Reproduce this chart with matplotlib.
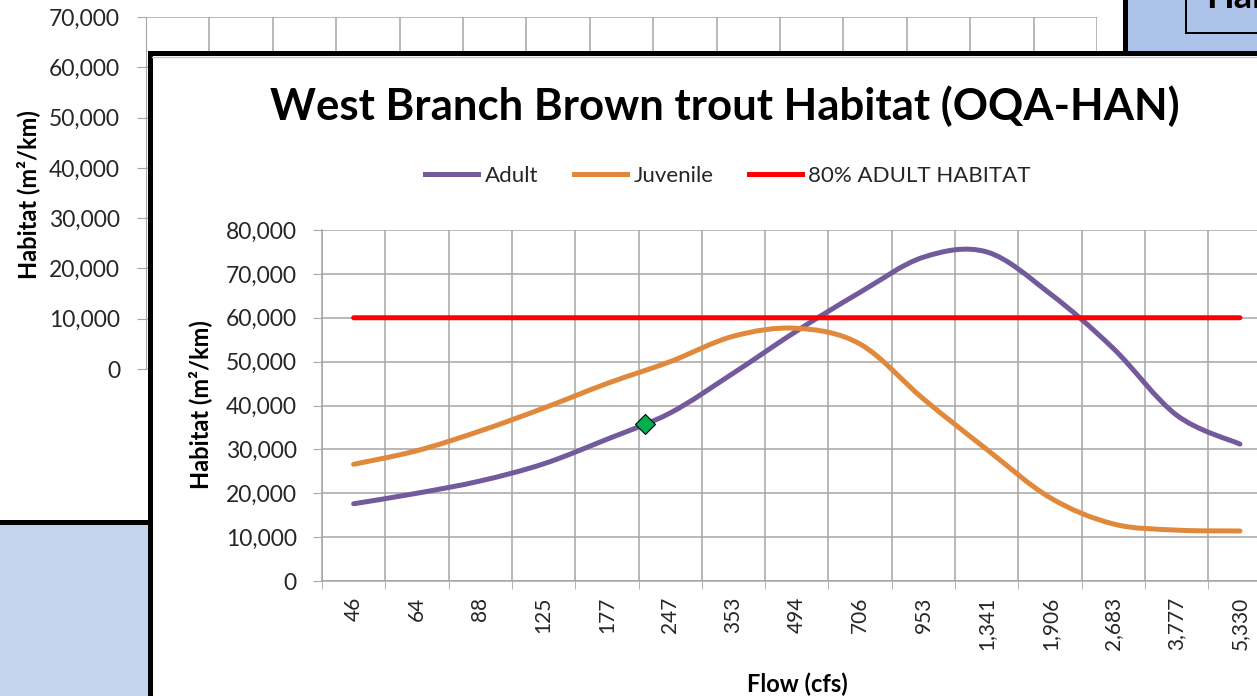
import numpy as np
import matplotlib
matplotlib.use("Agg")
import matplotlib.pyplot as plt
from matplotlib.path import Path
from matplotlib.patches import PathPatch, Rectangle
from matplotlib.lines import Line2D
from matplotlib.ticker import FuncFormatter

plt.rcParams['font.family'] = ['Lato', 'DejaVu Sans']

# ---------------- data ----------------
categories = ["46", "64", "88", "125", "177", "247", "353", "494", "706",
              "953", "1,341", "1,906", "2,683", "3,777", "5,330"]
adult = [17600, 20000, 22800, 26700, 32300, 38300, 47400, 57000, 65800,
         73800, 75000, 65500, 53000, 37800, 31200]
juvenile = [26600, 29700, 34200, 39400, 45000, 50000, 55800, 57600, 54000,
            41500, 30000, 19000, 13000, 11600, 11400]
threshold = [60000, 60000, 60000, 60000, 60000, 60000, 60000, 60000, 60000,
             60000, 60000, 60000, 60000, 60000, 60000]
marker_pos = 4.6
marker_value = 35800
series_labels = ["Adult", "Juvenile", "80% ADULT HABITAT"]
bg_yticks = [0, 10000, 20000, 30000, 40000, 50000, 60000, 70000]
main_yticks = [0, 10000, 20000, 30000, 40000, 50000, 60000, 70000, 80000]

# ---------------- layout helpers ----------------
W, H = 1257, 696
fig = plt.figure(figsize=(W / 100, H / 100), dpi=100)
fig.patch.set_facecolor("white")


def fx(x):
    return x / W


def fy(y):
    return 1 - y / H


GRID = "#a6a6a6"
TXT = "#262626"
comma = FuncFormatter(lambda v, p: f"{int(v):,}")
PX = 0.72  # points per pixel
TICK_FS = 16.5
LABEL_FS = 17

# ---------------- background chart (behind) ----------------
ax_bg = fig.add_axes([fx(146), fy(369), fx(1097) - fx(146), fy(17) - fy(369)])
ax_bg.set_zorder(0)
ax_bg.set_xlim(-0.5, len(categories) - 0.5)
ax_bg.set_ylim(0, 70000)
ax_bg.set_yticks(bg_yticks)
ax_bg.yaxis.set_major_formatter(comma)
ax_bg.set_xticks([])
ax_bg.set_xticks(np.arange(-0.5, len(categories), 1), minor=True)
ax_bg.grid(which="minor", axis="x", color=GRID, lw=1.1)
ax_bg.grid(which="major", axis="y", color=GRID, lw=1.1)
ax_bg.tick_params(axis="y", length=9 * PX, color=GRID, labelsize=TICK_FS,
                  labelcolor=TXT, pad=17 * PX)
ax_bg.tick_params(axis="x", which="minor", length=0)
for s in ax_bg.spines.values():
    s.set_visible(False)
ax_bg.spines["left"].set_visible(True)
ax_bg.spines["left"].set_color(GRID)
fig.text(fx(28), fy(195), "Habitat (m²/km)", rotation=90, ha="center",
         va="center", fontsize=LABEL_FS, fontweight="bold", color="black")

# ---------------- surrounding sheet elements ----------------
fig.add_artist(Rectangle((fx(-10), fy(710)), fx(159.5), fy(521.5) - fy(710),
                         transform=fig.transFigure, facecolor="#c5d4ed",
                         edgecolor="black", lw=5 * PX, zorder=1))
fig.add_artist(Rectangle((fx(1125), fy(52.5)), fx(200), fy(-10) - fy(52.5),
                         transform=fig.transFigure, facecolor="#adc2e9",
                         edgecolor="black", lw=5 * PX, zorder=1))
fig.add_artist(Rectangle((fx(1186), fy(32.5)), fx(120), fy(-10) - fy(32.5),
                         transform=fig.transFigure, facecolor="#adc2e9",
                         edgecolor="black", lw=2 * PX, zorder=1.1))
fig.text(fx(1206), fy(8), "Habitat", ha="left", va="baseline", fontsize=26,
         fontweight="bold", color="black", zorder=1.2)

# main chart frame
fig.add_artist(Rectangle((fx(149.5), fy(720)), fx(1200), fy(52.5) - fy(720),
                         transform=fig.transFigure, facecolor="white",
                         edgecolor="black", lw=5 * PX, zorder=1.5))
fig.add_artist(Line2D([fx(152), fx(1257)], [fy(56.5), fy(56.5)],
                      transform=fig.transFigure, color="#c8c8c8", lw=1,
                      zorder=1.6))

# ---------------- main chart ----------------
ax = fig.add_axes([fx(322), fy(581), (1271.6 - 322) / W, (581 - 230) / H])
ax.set_zorder(2)
ax.patch.set_alpha(0)
n = len(categories)
ax.set_xlim(-0.5, n - 0.5)
ax.set_ylim(0, 80000)
ax.set_yticks(main_yticks)
ax.yaxis.set_major_formatter(comma)
ax.set_xticks(range(n))
ax.set_xticklabels(categories, rotation=90, fontsize=15, color=TXT)
ax.set_xticks(np.arange(-0.5, n, 1), minor=True)
ax.grid(which="minor", axis="x", color=GRID, lw=1.1)
ax.grid(which="major", axis="y", color=GRID, lw=1.1)
ax.set_axisbelow(True)
ax.tick_params(axis="x", which="major", length=0, pad=16 * PX)
ax.tick_params(axis="x", which="minor", length=8 * PX, color=GRID)
ax.tick_params(axis="y", length=9 * PX, color=GRID, labelsize=TICK_FS,
               labelcolor=TXT, pad=16 * PX)
for s in ["top", "right"]:
    ax.spines[s].set_visible(False)
for s in ["left", "bottom"]:
    ax.spines[s].set_color(GRID)
    ax.spines[s].set_linewidth(1.1)


def smooth_path(values):
    xs = np.arange(len(values), dtype=float)
    ys = np.asarray(values, dtype=float)
    pts = np.column_stack([xs, ys])
    verts = [pts[0]]
    codes = [Path.MOVETO]
    for i in range(len(pts) - 1):
        p0 = pts[i - 1] if i > 0 else pts[i]
        p1 = pts[i]
        p2 = pts[i + 1]
        p3 = pts[i + 2] if i + 2 < len(pts) else pts[i + 1]
        c1 = p1 + (p2 - p0) / 6.0
        c2 = p2 - (p3 - p1) / 6.0
        verts += [c1, c2, p2]
        codes += [Path.CURVE4] * 3
    return Path(verts, codes)


colors = ["#735a9c", "#e0883b", "#ff0000"]
for vals, col in zip([adult, juvenile, threshold], colors):
    ax.add_patch(PathPatch(smooth_path(vals), facecolor="none", edgecolor=col,
                           lw=5 * PX, capstyle="round", joinstyle="round",
                           zorder=3))

ax.plot([marker_pos], [marker_value], marker="D", ms=10, mfc="#00b050",
        mec="black", mew=0.8, ls="none", zorder=4)

fig.text(fx(200), fy(405), "Habitat (m²/km)", rotation=90, ha="center",
         va="center", fontsize=LABEL_FS, fontweight="bold", color="black")
fig.text(fx(797), fy(684), "Flow (cfs)", ha="center", va="center",
         fontsize=LABEL_FS, fontweight="bold", color="black")
fig.text(fx(725), fy(106), "West Branch Brown trout Habitat (OQA-HAN)",
         ha="center", va="center", fontsize=31.5, fontweight="bold",
         color="black")

handles = [Line2D([], [], color=c, lw=5 * PX) for c in colors]
fig.legend(handles, series_labels, loc="center",
           bbox_to_anchor=(fx(728), fy(176)), ncol=3, frameon=False,
           fontsize=16, handlelength=2.4, handletextpad=0.28,
           columnspacing=1.6, labelcolor=TXT)

fig.savefig("out.png", dpi=100)
